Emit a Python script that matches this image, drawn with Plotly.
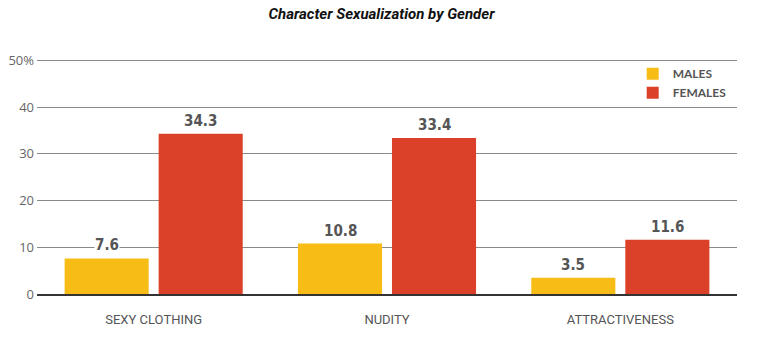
import plotly.graph_objects as go

categories = ["SEXY CLOTHING", "NUDITY", "ATTRACTIVENESS"]
males = [7.6, 10.8, 3.5]
females = [34.3, 33.4, 11.6]
tick_vals = [0, 10, 20, 30, 40, 50]
tick_text = ["0", "10", "20", "30", "40", "50%"]

YELLOW = "#F8BC16"
RED = "#DB4128"

fig = go.Figure()
fig.add_trace(go.Bar(name="<b>MALES</b>", x=categories, y=males, marker_color=YELLOW,
                     marker_line_width=0))
fig.add_trace(go.Bar(name="<b>FEMALES</b>", x=categories, y=females, marker_color=RED,
                     marker_line_width=0))

label_font = dict(family="Liberation Sans Narrow, DejaVu Sans Condensed, sans-serif",
                  size=15, color="#555555")
for series, shift in ((males, -47), (females, 47)):
    for c, v in zip(categories, series):
        fig.add_annotation(x=c, y=v, text="<b>%.1f</b>" % v, showarrow=False,
                           xshift=shift, yshift=13, font=label_font,
                           bgcolor="white", borderpad=0)

fig.update_layout(
    width=763, height=355,
    margin=dict(l=37, r=26, t=58, b=61, autoexpand=False),
    paper_bgcolor="white", plot_bgcolor="white",
    barmode="group", bargap=0.194, bargroupgap=0.106,
    title=dict(text="<b><i>Character Sexualization by Gender</i></b>",
               x=0.5, xanchor="center", y=0.962, yanchor="middle",
               font=dict(family="Roboto, sans-serif", size=15, color="#111111")),
    legend=dict(x=0.851, y=0.995, xanchor="left", yanchor="top",
                font=dict(family="Lato, sans-serif", size=12, color="#555555"),
                bgcolor="rgba(0,0,0,0)", itemwidth=30, tracegroupgap=0),
    showlegend=True,
    xaxis=dict(showgrid=False, showline=True, linecolor="#333333", linewidth=2,
               ticks="", automargin=False,
               tickfont=dict(family="Roboto, sans-serif", size=13, color="#555555"),
               ticklabelstandoff=12),
    yaxis=dict(range=[0, 50.5], tickvals=tick_vals, ticktext=tick_text,
               showgrid=True, gridcolor="#8a8a8a", gridwidth=1, zeroline=False,
               showline=False, ticks="", automargin=False,
               tickfont=dict(family="Open Sans, sans-serif", size=13, color="#666666"),
               ticklabelstandoff=2),
)
fig.write_html("out.html", config={"displayModeBar": False},
               post_script="document.body.style.margin='0';")
